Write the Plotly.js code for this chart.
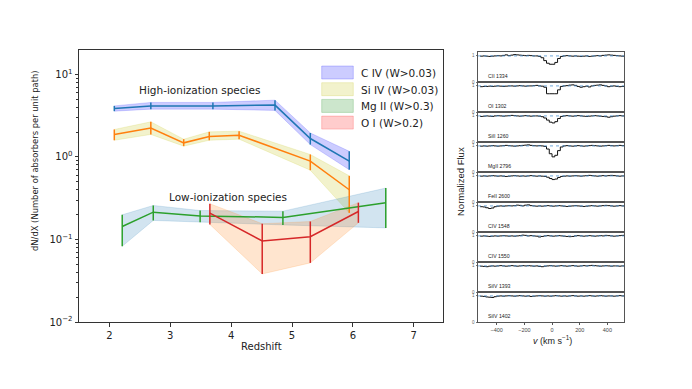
<!DOCTYPE html>
<html><head><meta charset="utf-8">
<script src="https://cdn.plot.ly/plotly-3.0.1.min.js"></script>
<style>body{margin:0;background:#fff}#chart{width:692px;height:389px}</style>
</head><body><div id="chart"></div>
<script>
// ---------- main panel data ----------
const Z_CIV  = [2.08, 2.68, 3.70, 4.72, 5.30, 5.94];
const Y_CIV  = [3.86, 4.15, 4.15, 4.24, 1.67, 0.89];
const HI_CIV = [4.15, 4.57, 4.57, 4.87, 1.95, 1.17];
const LO_CIV = [3.58, 3.79, 3.79, 3.66, 1.41, 0.70];

const Z_SIIV  = [2.08, 2.68, 3.22, 3.64, 4.13, 5.30, 5.94];
const Y_SIIV  = [1.87, 2.24, 1.48, 1.77, 1.83, 0.89, 0.40];
const HI_SIIV = [2.15, 2.66, 1.64, 2.01, 2.05, 1.07, 0.59];
const LO_SIIV = [1.59, 1.87, 1.35, 1.59, 1.64, 0.69, 0.21];

const Z_MGII  = [2.21, 2.72, 3.49, 4.85, 6.54];
const Y_MGII  = [0.1435, 0.214, 0.193, 0.185, 0.279];
const HI_MGII = [0.199, 0.258, 0.224, 0.220, 0.419];
const LO_MGII = [0.0826, 0.170, 0.162, 0.150, 0.138];

const Z_OI  = [3.65, 4.51, 5.30, 6.09];
const Y_OI  = [0.208, 0.096, 0.108, 0.218];
const HI_OI = [0.271, 0.155, 0.165, 0.279];
const LO_OI = [0.152, 0.0382, 0.052, 0.159];

const LEGEND_LABELS = ["C IV (W>0.03)", "Si IV (W>0.03)", "Mg II (W>0.3)", "O I (W>0.2)"];
const X_TICKS = [2, 3, 4, 5, 6, 7];
const Y_TICKS = [0.01, 0.1, 1, 10];
const Y_TICKTEXT = ["10<sup>−2</sup>", "10<sup>−1</sup>", "10<sup>0</sup>", "10<sup>1</sup>"];

// ---------- spectra panel data ----------
const V = [-520,-500,-480,-460,-440,-420,-400,-380,-360,-340,-320,-300,-280,-260,-240,-220,-200,-180,-160,-140,-120,-100,-80,-60,-40,-20,0,20,40,60,80,100,120,140,160,180,200,220,240,260,280,300,320,340,360,380,400,420,440,460,480,500,520];
const SPEC_LABELS = ["CII 1334","OI 1302","SiII 1260","MgII 2796","FeII 2600","CIV 1548","CIV 1550","SiIV 1393","SiIV 1402"];
const F_CII = [0.99,1.00,0.99,0.98,0.99,1.00,1.01,1.00,1.02,1.04,
 1.01,1.03,1.05,1.04,1.03,1.02,1.01,1.02,1.01,1.00,
 1.00,0.98,0.93,0.82,0.72,0.68,0.68,0.75,0.90,0.98,
 1.00,1.01,1.00,0.99,1.00,0.99,0.98,0.99,1.00,0.98,
 0.99,1.00,1.01,1.00,1.02,1.03,1.04,1.03,1.02,1.01,
 1.00,0.99,0.98];
const F_OI = [0.97,0.98,0.98,0.99,0.98,0.99,1.00,0.99,0.98,0.99,
 1.00,1.00,0.99,1.00,1.01,1.00,0.99,1.00,1.00,1.01,
 1.02,1.00,0.99,0.95,0.70,0.70,0.70,0.70,0.85,0.98,
 1.00,1.01,1.03,1.04,1.02,0.98,0.95,0.97,0.99,0.96,
 1.00,1.02,1.03,1.04,1.02,1.00,0.97,0.99,1.00,0.98,
 0.97,0.98,0.97];
const F_SIII = [0.98,0.99,1.00,0.99,0.98,1.00,1.01,1.00,0.99,1.00,
 1.01,1.02,1.01,1.00,0.99,1.00,1.01,1.00,0.99,1.00,
 1.00,0.99,0.97,0.92,0.84,0.76,0.73,0.78,0.90,0.98,
 1.00,1.01,1.00,0.99,1.00,1.01,1.00,0.99,0.98,0.99,
 1.00,1.01,1.00,0.99,0.98,0.97,0.95,0.97,0.99,1.00,
 1.01,1.00,0.99];
const F_MGII = [0.99,1.00,0.99,1.00,1.01,1.00,0.99,1.00,1.01,1.02,
 1.01,1.00,0.99,1.00,1.01,1.02,1.03,1.04,1.02,1.01,
 1.00,1.01,1.00,0.98,0.88,0.70,0.58,0.64,0.82,0.96,
 1.00,1.01,1.00,0.99,1.00,1.01,1.00,0.99,1.00,1.01,
 1.02,1.01,1.00,0.99,1.00,1.01,1.02,1.01,1.00,1.01,
 1.02,1.01,1.00];
const F_FEII = [0.99,1.00,0.99,1.00,1.01,1.00,0.99,1.00,0.99,0.98,
 0.99,1.00,1.01,1.00,0.99,1.00,0.99,1.00,1.01,1.00,
 0.99,1.00,0.99,0.98,0.95,0.90,0.86,0.88,0.94,0.98,
 0.99,1.00,0.99,1.00,1.01,1.00,0.99,1.00,1.01,1.02,
 1.01,1.00,0.99,1.00,1.01,1.00,1.01,1.02,1.01,1.00,
 0.99,1.00,1.00];
const F_CIV1548 = [0.97,0.96,0.93,0.90,0.92,0.97,0.99,1.00,0.99,1.00,
 1.01,1.00,1.01,1.03,1.02,1.00,1.03,1.04,1.01,1.00,
 0.99,1.00,0.99,1.00,1.01,1.00,0.99,1.00,1.01,1.00,
 0.99,0.98,0.99,1.00,1.01,1.00,0.99,0.98,0.99,1.00,
 1.01,1.00,0.99,1.00,1.01,1.02,1.01,1.00,0.99,1.00,
 1.01,1.00,0.99];
const F_CIV1550 = [0.99,1.00,0.99,0.98,0.99,1.00,0.99,1.00,1.01,1.00,
 0.99,1.00,0.99,1.00,1.01,1.03,1.02,1.00,1.01,1.00,
 0.99,0.96,0.98,1.00,1.01,1.00,0.99,1.00,1.01,1.00,
 0.99,0.98,0.97,0.98,1.00,1.01,1.00,0.99,1.00,1.01,
 1.00,0.99,1.00,1.01,1.00,1.02,1.01,1.00,0.99,1.00,
 1.01,1.02,1.04];
const F_SIIV1393 = [0.99,0.98,0.97,0.99,1.00,0.99,1.00,1.01,1.00,0.99,
 1.00,1.01,1.00,0.99,1.00,1.01,1.00,1.01,1.00,0.99,
 1.00,0.98,0.97,0.99,1.00,1.01,1.00,0.99,1.00,1.01,
 1.00,0.99,1.00,1.01,1.00,0.99,1.00,1.01,1.00,1.01,
 1.02,1.01,1.00,0.99,1.00,1.01,1.00,0.99,1.00,1.00,
 0.99,1.00,0.99];
const F_SIIV1402 = [0.99,0.98,0.96,0.95,0.94,0.97,0.99,1.00,0.99,1.00,
 1.01,1.00,0.99,1.00,1.01,1.00,0.99,1.00,0.98,0.99,
 1.00,1.01,1.00,0.99,1.00,0.99,1.00,1.01,1.00,0.99,
 1.00,0.99,1.00,1.01,1.00,0.99,1.00,0.99,1.00,1.01,
 1.00,0.99,1.00,1.01,1.00,0.99,1.00,1.00,0.99,1.00,
 1.01,1.00,0.99];
const SPECTRA = [F_CII, F_OI, F_SIII, F_MGII, F_FEII, F_CIV1548, F_CIV1550, F_SIIV1393, F_SIIV1402];
const V_TICKS = [-400, -200, 0, 200, 400];
const V_TICKTEXT = ["−400", "−200", "0", "200", "400"];

// ---------- geometry helpers ----------
const W = 692, H = 389;
const px = x => x / W;
const py = y => 1 - y / H;
function note(text, x, y, opts) {
  return Object.assign({text: text, x: px(x), y: py(y), xref: 'paper', yref: 'paper',
    xanchor: 'center', yanchor: 'middle', showarrow: false}, opts || {});
}

const traces = [];
function addBand(z, lo, hi, bandColor) {
  traces.push({
    x: z.concat(z.slice().reverse()),
    y: hi.concat(lo.slice().reverse()),
    type: 'scatter', mode: 'lines', fill: 'toself',
    fillcolor: bandColor, line: {color: bandColor, width: 0.8},
    xaxis: 'x', yaxis: 'y', showlegend: false, hoverinfo: 'skip'
  });
}
function addLine(z, y, lo, hi, lineColor) {
  traces.push({
    x: z, y: y, type: 'scatter', mode: 'lines',
    line: {color: lineColor, width: 1.5},
    error_y: {type: 'data', symmetric: false,
      array: hi.map((h, i) => h - y[i]),
      arrayminus: lo.map((l, i) => y[i] - l),
      color: lineColor, thickness: 1.5, width: 0},
    xaxis: 'x', yaxis: 'y', showlegend: false
  });
}
addBand(Z_CIV, LO_CIV, HI_CIV, 'rgba(0,0,255,0.2)');
addBand(Z_SIIV, LO_SIIV, HI_SIIV, 'rgba(191,191,0,0.2)');
addBand(Z_MGII, LO_MGII, HI_MGII, 'rgba(31,119,180,0.2)');
addBand(Z_OI, LO_OI, HI_OI, 'rgba(255,127,14,0.2)');
addLine(Z_CIV, Y_CIV, LO_CIV, HI_CIV, '#1f77b4');
addLine(Z_SIIV, Y_SIIV, LO_SIIV, HI_SIIV, '#ff7f0e');
addLine(Z_MGII, Y_MGII, LO_MGII, HI_MGII, '#2ca02c');
addLine(Z_OI, Y_OI, LO_OI, HI_OI, '#d62728');

const layout = {
  width: W, height: H, margin: {l: 0, r: 0, t: 0, b: 0},
  paper_bgcolor: '#fff', plot_bgcolor: 'rgba(0,0,0,0)',
  showlegend: false,
  font: {family: 'DejaVu Sans', size: 10, color: '#222'},
  xaxis: {domain: [px(79), px(443)], range: [1.5, 7.48], anchor: 'y',
    showgrid: false, zeroline: false, showline: true, mirror: true,
    linecolor: '#333', linewidth: 1, ticks: 'outside', ticklen: 3.5, tickwidth: 1,
    tickcolor: '#333', tickvals: X_TICKS, tickfont: {size: 10, color: '#222'}},
  yaxis: {domain: [py(322), py(50)], type: 'log', range: [-2, 1.295], anchor: 'x',
    showgrid: false, zeroline: false, showline: true, mirror: true,
    linecolor: '#333', linewidth: 1, ticks: 'outside', ticklen: 3.5, tickwidth: 1,
    tickcolor: '#333', tickvals: Y_TICKS, ticktext: Y_TICKTEXT,
    tickfont: {size: 10, color: '#222'},
    minor: {ticks: 'outside', ticklen: 2, tickcolor: '#333', dtick: 'D1', showgrid: false}},
  shapes: [], annotations: []
};

// main annotations
layout.annotations.push(
  note('High-ionization species', 199, 90, {font: {size: 10.5, color: '#222'}}),
  note('Low-ionization species', 228, 197, {font: {size: 10.5, color: '#222'}}),
  note('Redshift', 261, 346, {font: {size: 10, color: '#222'}}),
  note('dN/dX (Number of absorbers per unit path)', 35, 161, {textangle: -90, font: {size: 8.4, color: '#222'}})
);

// legend (hand-built patches)
const LEG_FILL = ['rgba(0,0,255,0.2)', 'rgba(191,191,0,0.2)', 'rgba(0,128,0,0.2)', 'rgba(255,0,0,0.2)'];
LEGEND_LABELS.forEach((lab, i) => {
  const top = 66 + i * 16.7;
  layout.shapes.push({type: 'rect', xref: 'paper', yref: 'paper',
    x0: px(321.7), x1: px(353.3), y0: py(top), y1: py(top + 13),
    fillcolor: LEG_FILL[i], line: {color: LEG_FILL[i], width: 1}});
  layout.annotations.push(note(lab, 359.3, top + 6.8, {xanchor: 'left', font: {size: 10.5, color: '#222'}}));
});

// spectra panels
const SP_TOP = 52, SP_H = 30;
SPECTRA.forEach((f, i) => {
  const k = i + 2;
  const xa = 'xaxis' + k, ya = 'yaxis' + k;
  const top = SP_TOP + i * SP_H, bot = top + SP_H;
  const last = i === SPECTRA.length - 1;
  layout[xa] = {domain: [px(478), px(624)], range: [-535, 520], anchor: 'y' + k,
    showgrid: false, zeroline: false, showline: true, mirror: true,
    linecolor: '#555', linewidth: 1,
    ticks: last ? 'outside' : '', ticklen: 2, tickcolor: '#555',
    showticklabels: last, tickvals: V_TICKS, ticktext: V_TICKTEXT,
    tickfont: {family: 'Liberation Sans', size: 5.5, color: '#444'}};
  layout[ya] = {domain: [py(bot), py(top)], range: [0, 1.15], anchor: 'x' + k,
    showgrid: false, zeroline: false, showline: true, mirror: true,
    linecolor: '#555', linewidth: 1,
    ticks: 'outside', ticklen: 1.5, tickcolor: '#777',
    tickvals: [0, 1], tickfont: {family: 'Liberation Sans', size: 4.5, color: '#666'}};
  layout.shapes.push({type: 'line', xref: 'x' + k + ' domain', yref: 'y' + k,
    x0: 0, x1: 1, y0: 1, y1: 1, line: {color: '#4a90d0', width: 0.8, dash: 'dot'}});
  traces.push({x: V, y: f, type: 'scatter', mode: 'lines', line: {color: '#111', width: 1, shape: 'hv'},
    xaxis: 'x' + k, yaxis: 'y' + k, showlegend: false});
  layout.annotations.push(note(SPEC_LABELS[i], 485.7, bot - 6,
    {xanchor: 'left', font: {family: 'Liberation Sans', size: 5.2, color: '#222'}}));
});
layout.annotations.push(
  note('Normalized Flux', 460, 181, {textangle: -90, font: {family: 'Liberation Sans', size: 9.5, color: '#222'}}),
  note('<i>v</i> (km s<sup>−1</sup>)', 552, 340, {font: {family: 'Liberation Sans', size: 9, color: '#222'}})
);

Plotly.newPlot('chart', traces, layout, {staticPlot: true, displayModeBar: false});
</script></body></html>
